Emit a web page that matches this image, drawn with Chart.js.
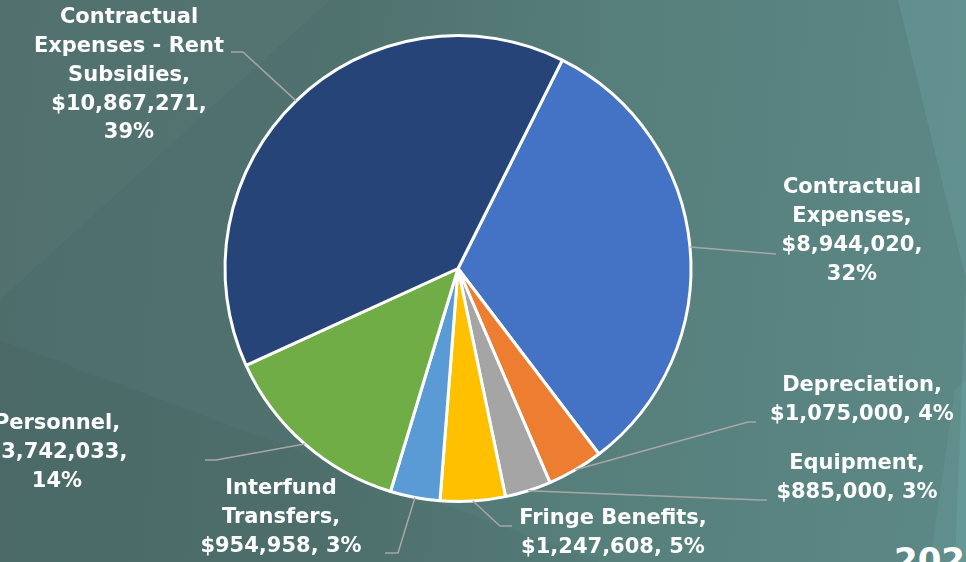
<!DOCTYPE html>
<html lang="en">
<head>
<meta charset="UTF-8">
<title>Expenses</title>
<script src="https://cdn.jsdelivr.net/npm/chart.js"></script>
<style>
    html, body { margin: 0; padding: 0; }
    body {
        width: 966px; height: 562px; overflow: hidden; position: relative;
        background: linear-gradient(95deg, #4d6d6b 0%, #50726f 35%, #57807d 65%, #5c8885 100%);
    }
    .facet { position: absolute; left: 0; top: 0; width: 966px; height: 562px; }
    .f1 { background: rgba(255,255,255,0.025); clip-path: polygon(0 0, 330px 0, 0 300px); }
    .f2 { background: rgba(0,0,0,0.03); clip-path: polygon(0 340px, 600px 562px, 0 562px); }
    .f3 { background: rgba(130,200,200,0.16); clip-path: polygon(898px 0, 966px 0, 966px 562px, 955px 562px, 966px 280px); }
    .f4 { background: rgba(130,200,200,0.12); clip-path: polygon(955px 390px, 966px 380px, 966px 562px, 930px 562px); }
    #year {
        position: absolute; left: 894px; top: 540px; line-height: 1;
        font: bold 34px "DejaVu Sans", sans-serif; color: #fff;
    }
    #wrap { position: absolute; left: 0; top: 0; width: 966px; height: 562px; }
</style>
</head>
<body>
<div class="facet f1"></div>
<div class="facet f2"></div>
<div class="facet f3"></div>
<div class="facet f4"></div>
<div id="year">2024</div>
<div id="wrap"><canvas id="pieChart" width="966" height="562"></canvas></div>
<script>
const categories = ['Contractual Expenses', 'Depreciation', 'Equipment', 'Fringe Benefits',
    'Interfund Transfers', 'Personnel', 'Contractual Expenses - Rent Subsidies'];
const amounts = [8944020, 1075000, 885000, 1247608, 954958, 3742033, 10867271];
const colors = ['#4472C4', '#ED7D31', '#A5A5A5', '#FFC000', '#5B9BD5', '#70AD47', '#264478'];

// how many words go on each label line
const lineWords = [[1, 1, 1, 1], [1, 2], [1, 2], [2, 2], [1, 1, 2], [1, 1, 1], [1, 3, 1, 1, 1]];
// label text center x, first line y, and leader line bend / end points
const labelLayout = [
    { x: 852, y: 188, bend: [776, 254], end: [776, 254] },
    { x: 862, y: 386, bend: [748, 422], end: [756, 422] },
    { x: 857, y: 464, bend: [760, 500], end: [767, 500] },
    { x: 613, y: 519, bend: [500, 526], end: [512, 526] },
    { x: 281, y: 489, bend: [398, 553], end: [385, 553] },
    { x: 57,  y: 424, bend: [216, 460], end: [205, 460] },
    { x: 129, y: 18,  bend: [243, 52],  end: [231, 52] }
];

const total = amounts.reduce((a, b) => a + b, 0);

function labelLines(i) {
    const pct = Math.round(amounts[i] / total * 100);
    const words = (categories[i] + ', $' + amounts[i].toLocaleString('en-US') + ', ' + pct + '%').split(' ');
    const lines = [];
    let k = 0;
    lineWords[i].forEach(n => {
        lines.push(words.slice(k, k + n).join(' '));
        k += n;
    });
    return lines;
}

const pieLabels = {
    id: 'pieLabels',
    afterDraw(chart) {
        const ctx = chart.ctx;
        const arcs = chart.getDatasetMeta(0).data;
        ctx.save();
        arcs.forEach((arc, i) => {
            const p = arc.getProps(['x', 'y', 'startAngle', 'endAngle', 'outerRadius'], true);
            const mid = (p.startAngle + p.endAngle) / 2;
            const lay = labelLayout[i];
            ctx.strokeStyle = '#a7a7a7';
            ctx.lineWidth = 1.5;
            ctx.beginPath();
            ctx.moveTo(p.x + Math.cos(mid) * p.outerRadius, p.y + Math.sin(mid) * p.outerRadius);
            ctx.lineTo(lay.bend[0], lay.bend[1]);
            ctx.lineTo(lay.end[0], lay.end[1]);
            ctx.stroke();

            ctx.fillStyle = '#ffffff';
            ctx.font = 'bold 21px "DejaVu Sans", sans-serif';
            ctx.textAlign = 'center';
            ctx.textBaseline = 'middle';
            labelLines(i).forEach((line, j) => {
                ctx.fillText(line, lay.x, lay.y + j * 28.7);
            });
        });
        ctx.restore();
    }
};

new Chart(document.getElementById('pieChart').getContext('2d'), {
    type: 'pie',
    data: {
        labels: categories,
        datasets: [{
            data: amounts,
            backgroundColor: colors,
            borderColor: '#ffffff',
            borderWidth: 3
        }]
    },
    options: {
        responsive: false,
        animation: false,
        rotation: 26.6,
        layout: { padding: { left: 0, right: 50, top: 34, bottom: 59 } },
        plugins: {
            legend: { display: false },
            tooltip: { enabled: false }
        }
    },
    plugins: [pieLabels]
});
</script>
</body>
</html>
